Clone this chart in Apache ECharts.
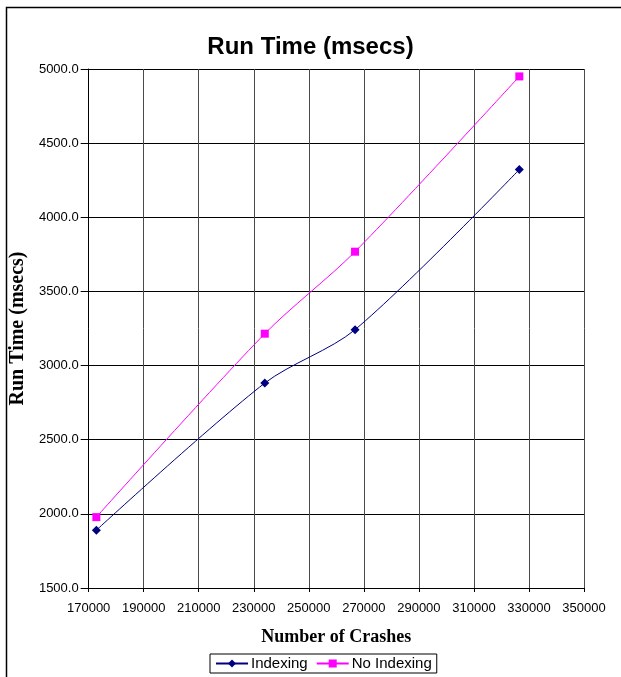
<!DOCTYPE html>
<html>
<head>
<meta charset="utf-8">
<script src="https://cdn.jsdelivr.net/npm/echarts@6/dist/echarts.min.js"></script>
<style>
  html, body { margin: 0; padding: 0; background: #fff; }
  #chart { width: 621px; height: 677px; }
</style>
</head>
<body>
<div id="chart"></div>
<script>
// number of crashes (x) and run times
var crashes = [172800, 234000, 266800, 326500];
var indexing = [1890, 2882, 3242, 4322];
var noIndexing = [1978, 3215, 3768, 4950];

function pairs(xs, ys) {
    return xs.map(function (x, i) { return [x, ys[i]]; });
}

var myChart = echarts.init(document.getElementById('chart'));
var option = {
    backgroundColor: '#fff',
    animation: false,
    title: {
        text: 'Run Time (msecs)',
        left: 'center',
        top: 30,
        textStyle: { fontFamily: 'Arial, Liberation Sans', fontSize: 24, fontWeight: 'bold', color: '#000' }
    },
    grid: { left: 85, right: 37, top: 69, bottom: 89 },
    graphic: [{
        type: 'rect',
        silent: true,
        shape: { x: 6.5, y: 7.5, width: 640, height: 700 },
        style: { fill: 'none', stroke: '#000', lineWidth: 1.5 }
    }, {
        type: 'line',
        silent: true,
        shape: { x1: 85, y1: 69.5, x2: 584.5, y2: 69.5 },
        style: { stroke: '#c0c0c0', lineWidth: 1 }
    }, {
        type: 'line',
        silent: true,
        shape: { x1: 584.5, y1: 69, x2: 584.5, y2: 588 },
        style: { stroke: '#c0c0c0', lineWidth: 1 }
    }],
    legend: {
        bottom: 4,
        left: 210,
        itemWidth: 32,
        itemHeight: 10,
        itemGap: 8,
        padding: [2, 5],
        borderColor: '#000',
        borderWidth: 1,
        borderRadius: 0,
        textStyle: { fontFamily: 'Arial, Liberation Sans', fontSize: 15, color: '#000', padding: [0, 0, 0, -2] },
        data: ['Indexing', 'No Indexing']
    },
    xAxis: {
        type: 'value',
        min: 170000,
        max: 350000,
        interval: 20000,
        name: 'Number of Crashes',
        nameLocation: 'middle',
        nameGap: 40,
        nameTextStyle: { fontFamily: 'Times New Roman, Liberation Serif', fontSize: 18, fontWeight: 'bold', color: '#000' },
        axisLine: { lineStyle: { color: '#000' } },
        axisTick: { show: true, length: 4, lineStyle: { color: '#000' } },
        axisLabel: {
            fontFamily: 'Arial, Liberation Sans', fontSize: 13, color: '#000', margin: 14,
            formatter: function (v) { return String(v); }
        },
        splitLine: { show: true, lineStyle: { color: '#4a4a4a', width: 1 } }
    },
    yAxis: {
        type: 'value',
        min: 1500,
        max: 5000,
        interval: 500,
        name: 'Run Time (msecs)',
        nameLocation: 'middle',
        nameGap: 54,
        nameTextStyle: { fontFamily: 'Times New Roman, Liberation Serif', fontSize: 20, fontWeight: 'bold', color: '#000' },
        axisLine: { show: true, lineStyle: { color: '#000' } },
        axisTick: { show: true, length: 8, lineStyle: { color: '#000' } },
        axisLabel: {
            fontFamily: 'Arial, Liberation Sans', fontSize: 13, color: '#000', margin: 10,
            formatter: function (v) { return v.toFixed(1); }
        },
        splitLine: { show: true, lineStyle: { color: '#000', width: 1 } }
    },
    series: [{
        name: 'Indexing',
        type: 'line',
        smooth: 0.3,
        data: pairs(crashes, indexing),
        symbol: 'diamond',
        symbolSize: 9,
        itemStyle: { color: '#000080' },
        lineStyle: { color: '#000080', width: 1 }
    }, {
        name: 'No Indexing',
        type: 'line',
        smooth: 0.3,
        data: pairs(crashes, noIndexing),
        symbol: 'rect',
        symbolSize: 8,
        itemStyle: { color: '#ff00ff' },
        lineStyle: { color: '#ff00ff', width: 1 }
    }]
};
myChart.setOption(option);
</script>
</body>
</html>
